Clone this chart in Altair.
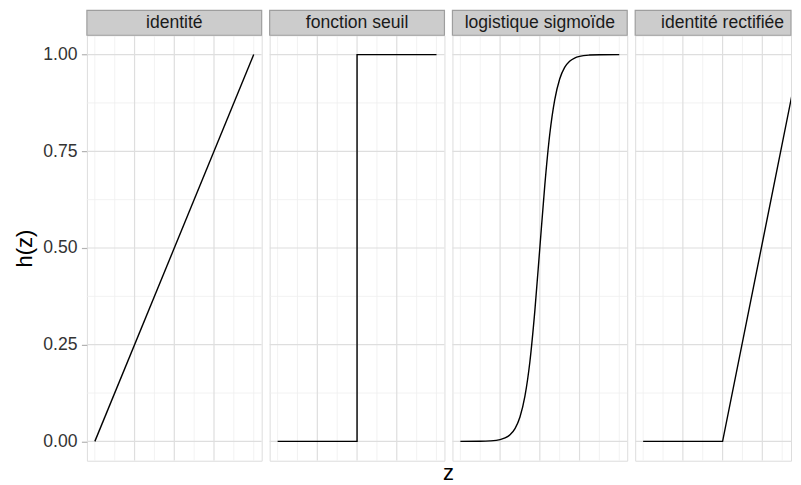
import altair as alt
import pandas as pd

panel_names = ["identité", "fonction seuil", "logistique sigmoïde", "identité rectifiée"]

identity_z = [-4, 4]
identity_h = [0, 1]

step_z = [-4, 0, 0, 4]
step_h = [0, 0, 1, 1]

sig_z = [-4, -3, -2.5, -2, -1.75, -1.5, -1.25, -1, -0.75, -0.5, -0.25, 0,
         0.25, 0.5, 0.75, 1, 1.25, 1.5, 1.75, 2, 2.5, 3, 4]
sig_h = [0.0, 0.0003, 0.0012, 0.0045, 0.0088, 0.017, 0.033, 0.063, 0.117, 0.206, 0.338, 0.5,
         0.662, 0.794, 0.883, 0.937, 0.967, 0.983, 0.9912, 0.9955, 0.9988, 0.9997, 1.0]

relu_z = [-4, 0, 3.9]
relu_h = [0, 0, 1]

grid_major_z = [-2, 0, 2]
grid_minor_z = [-4, -3, -1, 1, 3, 4]
grid_major_h = [0, 0.25, 0.5, 0.75, 1]
grid_minor_h = [0.125, 0.375, 0.625, 0.875]

series = [(identity_z, identity_h, "linear"),
          (step_z, step_h, "linear"),
          (sig_z, sig_h, "monotone"),
          (relu_z, relu_h, "linear")]

W, H = 175, 426
W_LAST = 156          # last panel is cut by the window edge in the reference
STRIP = 25
FONT = "Liberation Sans"
PX_PER_Z = W / 8.8

ys = alt.Scale(domain=[-0.05, 1.05], nice=False, zero=False)


def make_panel(i, name, z, h, interp):
    w = W_LAST if i == 3 else W
    xs = alt.Scale(domain=[-4.4, -4.4 + w / PX_PER_Z], nice=False, zero=False)
    if i == 0:
        yaxis = alt.Axis(values=grid_major_h, format=".2f", grid=False, domain=False,
                         title="h(z)", labelFont=FONT, labelFontSize=17.6,
                         labelColor="#333333", tickColor="#B3B3B3", tickSize=5.5,
                         tickWidth=1.2, labelPadding=4.4, titleFont=FONT,
                         titleFontSize=22, titleFontWeight="normal",
                         titleColor="black", titlePadding=6)
    else:
        yaxis = None
    Y = alt.Y("h:Q", scale=ys, axis=yaxis)
    X = alt.X("z:Q", scale=xs, axis=None)

    vmin = alt.Chart(pd.DataFrame({"z": grid_minor_z})).mark_rule(
        color="#EFEFEF", strokeWidth=0.8, clip=True).encode(x=X)
    vmaj = alt.Chart(pd.DataFrame({"z": grid_major_z})).mark_rule(
        color="#DEDEDE", strokeWidth=1.2, clip=True).encode(x=X)
    hmin = alt.Chart(pd.DataFrame({"h": grid_minor_h})).mark_rule(
        color="#EFEFEF", strokeWidth=0.8).encode(y=Y)
    hmaj = alt.Chart(pd.DataFrame({"h": grid_major_h})).mark_rule(
        color="#DEDEDE", strokeWidth=1.2).encode(y=Y)

    df = pd.DataFrame({"z": z, "h": h, "order": list(range(len(z)))})
    line = alt.Chart(df).mark_line(color="black", strokeWidth=1.4,
                                   interpolate=interp, clip=True).encode(
        x=X, y=Y, order="order:Q")

    rect = alt.Chart(alt.Data(values=[{}])).mark_rect(
        fill="#CCCCCC", stroke="#9E9E9E", strokeWidth=1.2).encode(
        x=alt.value(0), x2=alt.value(w), y=alt.value(-STRIP), y2=alt.value(0))
    txt = alt.Chart(alt.Data(values=[{}])).mark_text(
        text=name, font=FONT, fontSize=17.6, color="#1A1A1A",
        baseline="middle", align="center").encode(
        x=alt.value(W / 2), y=alt.value(-STRIP / 2))

    layers = [vmin, hmin, vmaj, hmaj, line, rect, txt]
    if i == 2:
        ztitle = alt.Chart(alt.Data(values=[{}])).mark_text(
            text="z", font=FONT, fontSize=22, color="black",
            baseline="alphabetic", align="center").encode(
            x=alt.value(-4), y=alt.value(H + 19))
        layers.append(ztitle)
    return alt.layer(*layers).properties(width=w, height=H)


panels = [make_panel(i, n, z, h, it)
          for i, (n, (z, h, it)) in enumerate(zip(panel_names, series))]

chart = alt.hconcat(*panels, spacing=8, bounds="flush").properties(
    padding={"left": 5, "top": 0, "right": 0, "bottom": 0}
).configure_view(stroke="#9A9A9A", strokeWidth=1.5).configure(background="white")

chart.save("out.html", embed_options={"renderer": "svg", "actions": False})
